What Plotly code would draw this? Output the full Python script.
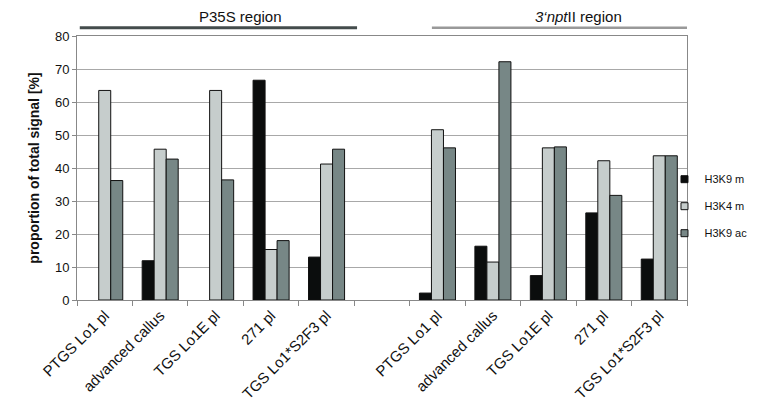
import plotly.graph_objects as go

# categories per region (the gap between regions is an empty slot)
lines = ["PTGS Lo1 pl", "advanced callus", "TGS Lo1E pl", "271 pl", "TGS Lo1*S2F3 pl"]

# values, P35S region then 3'nptII region
h3k9m_p35s = [0, 11.9, 0, 66.6, 13.0]
h3k4m_p35s = [63.5, 45.7, 63.5, 15.3, 41.2]
h3k9ac_p35s = [36.2, 42.7, 36.4, 18.0, 45.7]

h3k9m_npt = [2.1, 16.3, 7.4, 26.4, 12.4]
h3k4m_npt = [51.6, 11.5, 46.1, 42.2, 43.7]
h3k9ac_npt = [46.1, 72.2, 46.4, 31.7, 43.7]

x_pos = [0, 1, 2, 3, 4, 6, 7, 8, 9, 10]
labels = lines + lines

series = [
    ("H3K9 m", h3k9m_p35s + h3k9m_npt, "#0b0d0d"),
    ("H3K4 m", h3k4m_p35s + h3k4m_npt, "#c6cdcc"),
    ("H3K9 ac", h3k9ac_p35s + h3k9ac_npt, "#778786"),
]

fig = go.Figure()
for name, vals, color in series:
    # no outline on empty bars so a zero value leaves no mark
    widths = [1 if v > 0 else 0 for v in vals]
    fig.add_trace(go.Bar(
        x=x_pos, y=vals, name=name, legendgroup=name, showlegend=False,
        marker=dict(color=color, line=dict(color="#111111", width=widths)),
    ))
    # small square legend key like the original
    fig.add_trace(go.Scatter(
        x=[None], y=[None], mode="markers", name=name, legendgroup=name,
        marker=dict(symbol="square", size=7, color=color, line=dict(color="#111111", width=1)),
    ))

# page body adds an 8px margin, so the figure is 8px smaller and shifted
fig.update_layout(
    width=752, height=412,
    barmode="group", bargap=0.35, bargroupgap=0,
    plot_bgcolor="white", paper_bgcolor="white",
    margin=dict(l=69, r=73, t=28, b=120, autoexpand=False),
    font=dict(family="Liberation Sans, Arial, sans-serif", size=13, color="#111111"),
    legend=dict(xref="container", yref="container", x=0.873, y=0.519,
                yanchor="middle", xanchor="left",
                font=dict(size=11), itemwidth=30, tracegroupgap=8,
                bgcolor="rgba(0,0,0,0)"),
    showlegend=True,
)

fig.update_xaxes(
    range=[-0.5, 10.5], tickmode="array", tickvals=x_pos, ticktext=labels,
    tickangle=-45, ticks="", showgrid=False,
    showline=True, linecolor="#888888", linewidth=1, mirror=True,
    minor=dict(tick0=-0.5, dtick=1, ticks="outside", ticklen=5, tickcolor="#888888"),
    tickfont=dict(size=15),
)
fig.update_yaxes(
    range=[0, 80], dtick=10, ticks="outside", ticklen=4, tickcolor="#888888",
    showgrid=True, gridcolor="#a8a8a8", gridwidth=1,
    showline=True, linecolor="#888888", linewidth=1, mirror=True,
    zeroline=False, tickfont=dict(size=13),
    title=dict(text="<b>proportion of total signal [%]</b>", font=dict(size=14), standoff=12),
)

# region headers with bars above the plot
fig.add_shape(type="line", xref="x", yref="paper", x0=-0.45, x1=4.55, y0=1.031, y1=1.031,
              line=dict(color="#444c4c", width=3))
fig.add_shape(type="line", xref="x", yref="paper", x0=5.9, x1=10.95, y0=1.031, y1=1.031,
              line=dict(color="#999999", width=2.5))
fig.add_annotation(x=2.45, y=1.072, xref="x", yref="paper", text="P35S region",
                   showarrow=False, yanchor="middle", font=dict(size=15))
fig.add_annotation(x=8.55, y=1.072, xref="x", yref="paper", text="<i>3‘npt</i>II region",
                   showarrow=False, yanchor="middle", font=dict(size=15))

fig.write_html("out.html")
